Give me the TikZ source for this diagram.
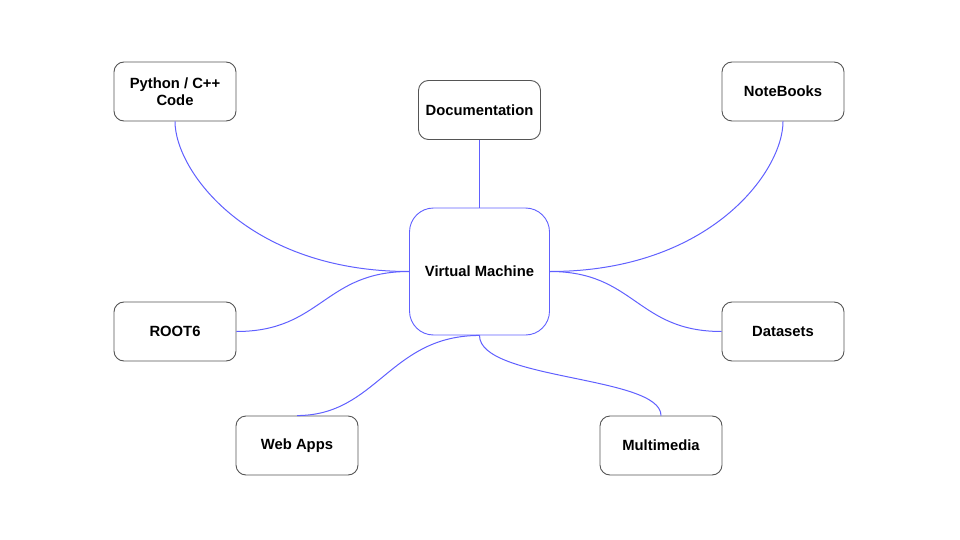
\documentclass[tikz,border=0pt]{standalone}
\usepackage{fontspec}
\setmainfont{Liberation Sans}
\definecolor{edgeblue}{HTML}{6060FF}
\definecolor{boxgray}{HTML}{555555}
\begin{document}
\begin{tikzpicture}[x=1pt,y=-1pt,
  box/.style={draw=boxgray, line width=0.9pt, rounded corners=10pt, minimum width=122pt, minimum height=59pt, inner sep=0pt, align=center, font=\fontsize{14.8}{17}\selectfont\bfseries, fill=white},
  vmbox/.style={box, draw=edgeblue, rounded corners=24pt, minimum width=140pt, minimum height=127pt},
  link/.style={draw=edgeblue, line width=1pt}]
\useasboundingbox (0,0) rectangle (960,540);
\node[box] (py) at (175,91.5) {Python / C++\\Code};
\node[box] (doc) at (479.5,110) {Documentation};
\node[box] (nb) at (783,91.5) {NoteBooks};
\node[vmbox] (vm) at (479.5,271.5) {Virtual Machine};
\node[box] (root) at (175,331.5) {ROOT6};
\node[box] (data) at (783,331.5) {Datasets};
\node[box] (web) at (297,445.5) {Web Apps};
\node[box] (mm) at (661,445.5) {Multimedia};
\path[link] (py.south) .. controls ++(0,50) and ++(-160,0) .. (vm.west);
\path[link] (doc.south) -- (vm.north);
\path[link] (nb.south) .. controls ++(0,50) and ++(160,0) .. (vm.east);
\path[link] (root.east) .. controls ++(85,0) and ++(-85,0) .. (vm.west);
\path[link] (data.west) .. controls ++(-85,0) and ++(85,0) .. (vm.east);
\path[link] (web.north) .. controls ++(80,0) and ++(-90,0) .. (vm.south);
\path[link] (vm.south) .. controls ++(0,45) and ++(0,-40) .. (mm.north);
\end{tikzpicture}
\end{document}
